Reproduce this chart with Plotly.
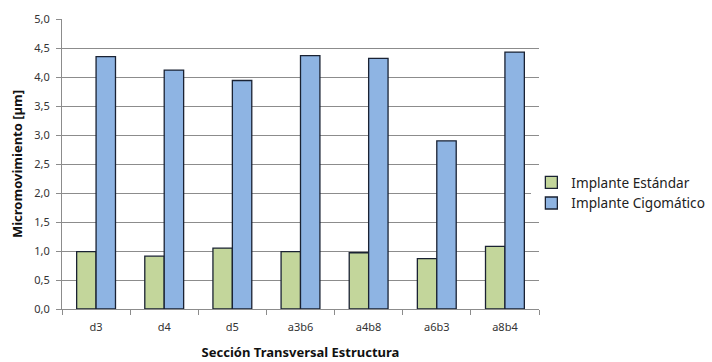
import plotly.graph_objects as go

# Cross-section labels and micromovement values (µm)
secciones = ["d3", "d4", "d5", "a3b6", "a4b8", "a6b3", "a8b4"]
implante_estandar = [0.99, 0.91, 1.05, 0.99, 0.97, 0.87, 1.08]
implante_cigomatico = [4.35, 4.12, 3.94, 4.37, 4.32, 2.90, 4.43]
y_ticks = [0.0, 0.5, 1.0, 1.5, 2.0, 2.5, 3.0, 3.5, 4.0, 4.5, 5.0]
y_tick_text = [f"{v:.1f}".replace(".", ",") for v in y_ticks]

FONT = "Noto Sans, Liberation Sans, sans-serif"
EDGE = "#1a2233"

fig = go.Figure()
fig.add_trace(go.Bar(
    x=secciones, y=implante_estandar, name="Implante Estándar",
    marker=dict(color="#c3d69b", line=dict(color=EDGE, width=1.3)),
))
fig.add_trace(go.Bar(
    x=secciones, y=implante_cigomatico, name="Implante Cigomático",
    marker=dict(color="#8eb4e3", line=dict(color=EDGE, width=1.3)),
))

fig.update_layout(
    width=712, height=362,
    margin=dict(l=62, r=173, t=19, b=53, autoexpand=False),
    paper_bgcolor="white", plot_bgcolor="white",
    barmode="group", bargap=0.43, bargroupgap=0,
    font=dict(family=FONT, size=11, color="#333333"),
    legend=dict(
        x=0.984, xanchor="left", y=0.40, yanchor="middle",
        font=dict(size=13.6, color="#222222"),
        traceorder="normal", itemwidth=30,
    ),
    xaxis=dict(
        showline=True, linecolor="#8c8c8c", linewidth=1,
        ticks="outside", tickson="boundaries", ticklen=5, tickcolor="#8c8c8c",
        ticklabelstandoff=8,
        title=dict(text="<b>Sección Transversal Estructura</b>",
                   font=dict(size=13, color="#111111"), standoff=14),
        tickfont=dict(size=11, color="#333333"),
    ),
    yaxis=dict(
        range=[0, 5], tickvals=y_ticks, ticktext=y_tick_text,
        showgrid=True, gridcolor="#8c8c8c", gridwidth=1,
        showline=True, linecolor="#8c8c8c", linewidth=1,
        ticks="outside", ticklen=5, tickcolor="#8c8c8c",
        ticklabelstandoff=4,
        title=dict(text="<b>Micromovimiento [µm]</b>",
                   font=dict(size=13, color="#111111"), standoff=8),
        tickfont=dict(size=11, color="#333333"),
        zeroline=False,
    ),
)

fig.write_html("out.html")
